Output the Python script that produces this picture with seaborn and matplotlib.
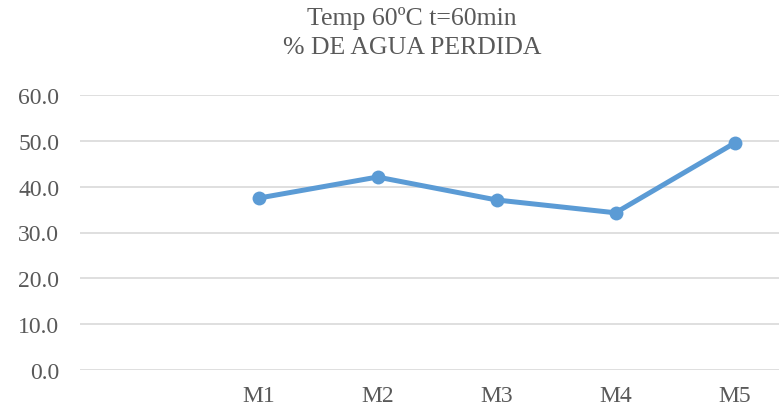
import numpy as np
import pandas as pd
import matplotlib
matplotlib.use("Agg")
import matplotlib.pyplot as plt
import seaborn as sns

# Sample labels (first slot is an unnamed, empty category) and % water lost
muestras = ["", "M1", "M2", "M3", "M4", "M5"]
agua_perdida = [np.nan, 37.5, 42.1, 37.1, 34.3, 49.5]
y_ticks = [0, 10, 20, 30, 40, 50, 60]
y_tick_labels = ["0.0", "10.0", "20.0", "30.0", "40.0", "50.0", "60.0"]

sns.set_theme(style="white")
plt.rcParams["font.family"] = ["Liberation Serif", "DejaVu Serif"]

text_color = "#595959"
line_color = "#5B9BD5"

df = pd.DataFrame({"pos": np.arange(len(muestras)),
                   "muestra": muestras,
                   "agua": agua_perdida}).dropna()

fig = plt.figure(figsize=(7.79, 4.14), dpi=100)
ax = fig.add_axes([80 / 779, 1 - 371 / 414, 1 - 80 / 779, (371 - 96) / 414])

sns.lineplot(data=df, x="pos", y="agua", ax=ax, color=line_color,
             linewidth=3.6, marker="o", markersize=10, markeredgewidth=0,
             sort=False, errorbar=None)

cat_w = 119.0
ax.set_xlim(-0.5, (779 - 80) / cat_w - 0.5)
ax.set_ylim(0, 60)
ax.set_yticks(y_ticks)
ax.set_yticklabels(y_tick_labels)
ax.set_xticks(np.arange(len(muestras)))
ax.set_xticklabels(muestras)
ax.grid(axis="y", color="#D9D9D9", linewidth=1.2)
ax.set_axisbelow(True)
for s in ax.spines.values():
    s.set_visible(False)
ax.tick_params(axis="both", length=0, labelsize=17, colors=text_color)
ax.tick_params(axis="y", pad=15)
ax.tick_params(axis="x", pad=11)
ax.set_xlabel("")
ax.set_ylabel("")

fig.text(412 / 779, 1 - 18 / 414, "Temp 60ºC t=60min", ha="center", va="center",
         fontsize=18.5, color=text_color)
fig.text(412 / 779, 1 - 48 / 414, "% DE AGUA PERDIDA", ha="center", va="center",
         fontsize=18.5, color=text_color)

fig.savefig("out.png", dpi=100)
